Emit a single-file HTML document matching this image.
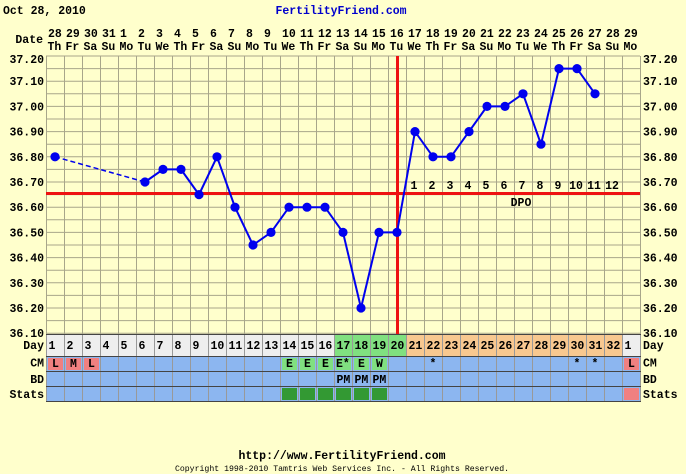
<!DOCTYPE html>
<html><head><meta charset="utf-8"><style>
html,body{margin:0;padding:0;background:#FFFFCC;}
svg{display:block;}
text{font-family:"Liberation Mono",monospace;font-weight:bold;fill:#000;}
</style></head><body>
<svg width="686" height="474" viewBox="0 0 686 474" xmlns="http://www.w3.org/2000/svg">
<rect x="0" y="0" width="686" height="474" fill="#FFFFCC"/>
<text x="3" y="14" font-size="11.5">Oct 28, 2010</text>
<text x="341" y="14" font-size="11.5" text-anchor="middle" style="fill:#0000CC">FertilityFriend.com</text>
<text x="43" y="43" font-size="11.5" text-anchor="end">Date</text>
<g id="dates" font-size="11.5"></g>
<g id="grid"></g>
<g id="table"></g>
<g id="labels" font-size="11.5"></g>
<g id="plot"></g>
<text x="342" y="459" font-size="11.5" text-anchor="middle">http://www.FertilityFriend.com</text>
<text x="342" y="471" font-size="8.2" text-anchor="middle" style="font-weight:normal">Copyright 1998-2010 Tamtris Web Services Inc. - All Rights Reserved.</text>
</svg>
<script>
(function(){
var NS="http://www.w3.org/2000/svg";
function el(p,t,a,txt){var e=document.createElementNS(NS,t);for(var k in a)e.setAttribute(k,a[k]);if(txt!=null)e.textContent=txt;p.appendChild(e);return e;}
var L=function(i){return 46+18*i;};
var C=function(i){return 55+18*i;};
var Y=function(t){return 56+(37.2-t)*252;};
var dates=document.getElementById('dates');
var d1=["28","29","30","31","1","2","3","4","5","6","7","8","9","10","11","12","13","14","15","16","17","18","19","20","21","22","23","24","25","26","27","28","29"];
var dw=["Th","Fr","Sa","Su","Mo","Tu","We","Th","Fr","Sa","Su","Mo","Tu","We","Th","Fr","Sa","Su","Mo","Tu","We","Th","Fr","Sa","Su","Mo","Tu","We","Th","Fr","Sa","Su","Mo"];
for(var i=0;i<33;i++){
 el(dates,'text',{x:L(i)+2,y:37},d1[i]);
 el(dates,'text',{x:L(i)+1.5,y:50},dw[i]);
}
var g=document.getElementById('grid');
el(g,'rect',{x:46,y:56,width:594,height:278,fill:'#FFFFCC'});
for(var k=0;k<=22;k++){var y=56+12.6*k;el(g,'line',{x1:46,x2:640,y1:y,y2:y,stroke:'#A8A68A','stroke-width':1});}
for(var i=0;i<=33;i++){el(g,'line',{x1:L(i)+0.5,x2:L(i)+0.5,y1:56,y2:334,stroke:'#A8A68A','stroke-width':1});}
var t=document.getElementById('table');
for(var i=0;i<33;i++){
 var c='#EEEEEE';
 if(i>=16&&i<=19)c='#80E080';
 else if(i>=20&&i<=31)c='#F8C890';
 el(t,'rect',{x:L(i),y:334,width:18,height:22,fill:c});
 el(t,'rect',{x:L(i),y:356,width:18,height:45,fill:'#8CB6F0'});
}
var cm={0:['L','#F08080'],1:['M','#F08080'],2:['L','#F08080'],13:['E','#80E080'],14:['E','#80E080'],15:['E','#80E080'],16:['E*','#80E080'],17:['E','#80E080'],18:['W','#80E080'],32:['L','#F08080']};
for(var k in cm){var i=+k;el(t,'rect',{x:L(i)+2,y:358,width:15,height:12,fill:cm[k][1]});}
for(var i=13;i<=18;i++)el(t,'rect',{x:L(i)+2,y:388,width:15,height:12,fill:'#339933'});
el(t,'rect',{x:L(32)+2,y:388,width:15,height:12,fill:'#F08080'});
for(var i=0;i<=33;i++){el(t,'line',{x1:L(i)+0.5,x2:L(i)+0.5,y1:334,y2:401,stroke:'#999999'});}
[334,356,371,386,401].forEach(function(y){el(t,'line',{x1:46,x2:641,y1:y+0.5,y2:y+0.5,stroke:'#444444'});});
for(var i=0;i<33;i++){var n=(i<32)?(i+1):1;el(t,'text',{x:L(i)+2.5,y:349,'font-size':11.5},String(n));}
for(var k in cm){var i=+k;var s=cm[k][0];
 if(s.length==1)el(t,'text',{x:C(i)+0.5,y:367,'font-size':11.5,'text-anchor':'middle'},s);
 else el(t,'text',{x:L(i)+2,y:367,'font-size':11.5},s);}
[21,29,30].forEach(function(i){el(t,'text',{x:C(i),y:367,'font-size':11.5,'text-anchor':'middle'},'*');});
[16,17,18].forEach(function(i){el(t,'text',{x:L(i)+2.5,y:383,'font-size':11.5},'PM');});
var lb=document.getElementById('labels');
var vals=["37.20","37.10","37.00","36.90","36.80","36.70","36.60","36.50","36.40","36.30","36.20","36.10"];
for(var k=0;k<12;k++){var y=56+25.2*k+4;if(k==0)y=63;
 el(lb,'text',{x:44,y:y,'text-anchor':'end'},vals[k]);
 el(lb,'text',{x:643,y:y},vals[k]);}
[["Day",349],["CM",366.5],["BD",383],["Stats",398]].forEach(function(a){
 el(lb,'text',{x:44,y:a[1],'text-anchor':'end'},a[0]);
 el(lb,'text',{x:643,y:a[1]},a[0]);});
var p=document.getElementById('plot');
for(var j=1;j<=12;j++){el(p,'text',{x:C(19+j)-1,y:189,'font-size':11.5,'text-anchor':'middle'},String(j));}
el(p,'text',{x:C(26)-2,y:206,'font-size':11.5,'text-anchor':'middle'},'DPO');
el(p,'rect',{x:46,y:192,width:594,height:3,fill:'#EE1111'});
el(p,'rect',{x:396,y:56,width:3,height:278,fill:'#EE1111'});
var pts=[[0,36.80],[5,36.70],[6,36.75],[7,36.75],[8,36.65],[9,36.80],[10,36.60],[11,36.45],[12,36.50],[13,36.60],[14,36.60],[15,36.60],[16,36.50],[17,36.20],[18,36.50],[19,36.50],[20,36.90],[21,36.80],[22,36.80],[23,36.90],[24,37.00],[25,37.00],[26,37.05],[27,36.85],[28,37.15],[29,37.15],[30,37.05]];
el(p,'line',{x1:C(0),y1:Y(36.8),x2:C(5),y2:Y(36.7),stroke:'#0000EE','stroke-width':1.5,'stroke-dasharray':'5,3'});
var s='';
for(var k=1;k<pts.length;k++){s+=(k==1?'M':'L')+C(pts[k][0])+','+Y(pts[k][1]).toFixed(1)+' ';}
el(p,'path',{d:s,fill:'none',stroke:'#0000EE','stroke-width':2});
pts.forEach(function(q){el(p,'circle',{cx:C(q[0]),cy:Y(q[1]).toFixed(1),r:4.6,fill:'#0000EE'});});
})();
</script>
</body></html>
